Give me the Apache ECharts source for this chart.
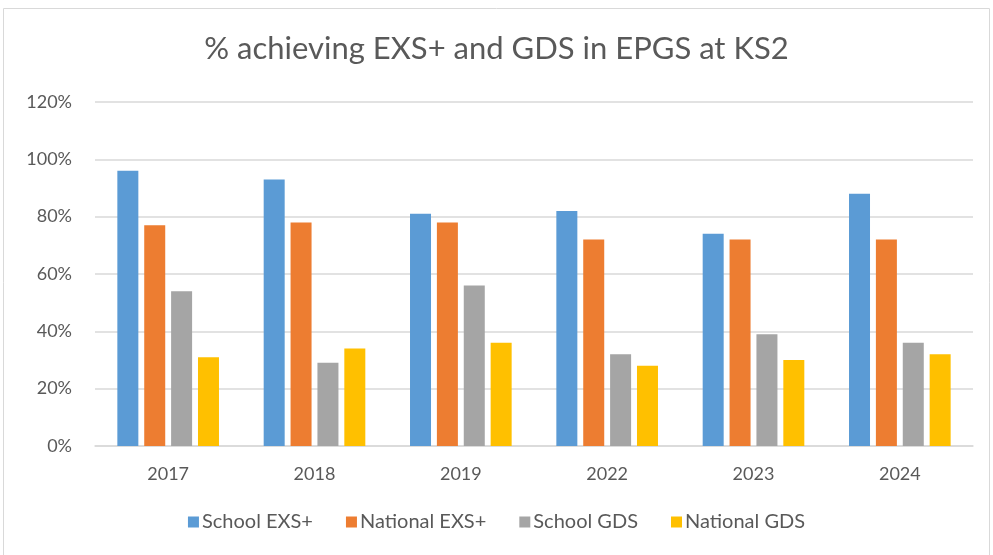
<!DOCTYPE html>
<html>
<head>
<meta charset="utf-8">
<script src="https://cdn.jsdelivr.net/npm/echarts@6/dist/echarts.min.js"></script>
<style>
  html, body { margin: 0; padding: 0; background: #fff; }
  #chart { width: 993px; height: 555px; }
</style>
</head>
<body>
<div id="chart"></div>
<script>
const years = ['2017', '2018', '2019', '2022', '2023', '2024'];
const seriesNames = ['School EXS+', 'National EXS+', 'School GDS', 'National GDS'];
const schoolExs = [96, 93, 81, 82, 74, 88];
const nationalExs = [77, 78, 78, 72, 72, 72];
const schoolGds = [54, 29, 56, 32, 39, 36];
const nationalGds = [31, 34, 36, 28, 30, 32];
const yTicks = [0, 20, 40, 60, 80, 100, 120];

const colors = ['#5b9bd5', '#ed7d31', '#a5a5a5', '#ffc000'];
const font = 'Lato, "Open Sans", sans-serif';

let chart = echarts.init(document.getElementById('chart'));
let values = [schoolExs, nationalExs, schoolGds, nationalGds];

chart.setOption({
    animation: false,
    color: colors,
    textStyle: { fontFamily: font },
    title: {
        text: '% achieving EXS+ and GDS in EPGS at KS2',
        left: 'center',
        top: 28,
        textStyle: { color: '#595959', fontSize: 31, fontWeight: 'normal', fontFamily: font }
    },
    graphic: [{
        type: 'rect',
        shape: { x: 3.5, y: 8.5, width: 986, height: 560 },
        style: { fill: 'none', stroke: '#d9d9d9', lineWidth: 1 }
    }],
    legend: {
        data: seriesNames,
        bottom: 18,
        left: 'center',
        itemWidth: 11,
        itemHeight: 11,
        itemGap: 33,
        icon: 'rect',
        textStyle: { color: '#595959', fontSize: 20, fontFamily: font, padding: [0, 0, 0, -2] }
    },
    grid: { left: 95, right: 20, top: 102, bottom: 109, containLabel: false },
    xAxis: {
        type: 'category',
        data: years,
        axisLine: { lineStyle: { color: '#d9d9d9', width: 1.5 } },
        axisTick: { show: false },
        axisLabel: { color: '#595959', fontSize: 18, margin: 19, fontFamily: font }
    },
    yAxis: {
        type: 'value',
        min: yTicks[0],
        max: yTicks[yTicks.length - 1],
        interval: 20,
        axisLine: { show: false },
        axisTick: { show: false },
        axisLabel: { color: '#595959', fontSize: 18, margin: 23, formatter: '{value}%', fontFamily: font },
        splitLine: { lineStyle: { color: '#d9d9d9', width: 1.5 } }
    },
    series: seriesNames.map(function (name, i) {
        return {
            name: name,
            type: 'bar',
            data: values[i],
            barWidth: 21,
            barGap: '28%'
        };
    })
});
</script>
</body>
</html>
